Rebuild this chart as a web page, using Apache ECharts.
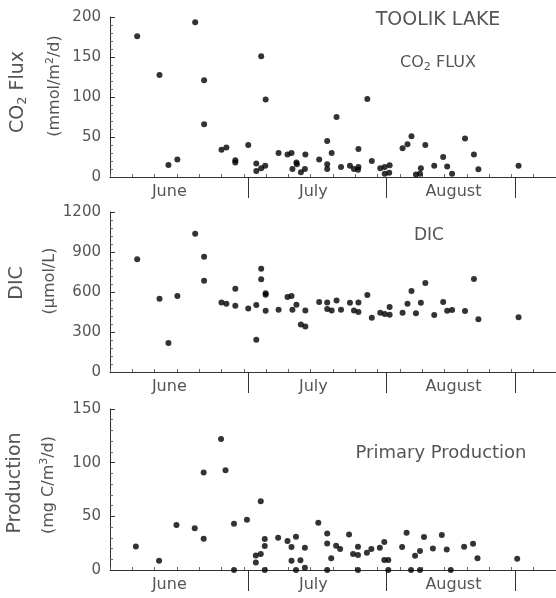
<!DOCTYPE html>
<html>
<head>
<meta charset="utf-8">
<script src="https://cdn.jsdelivr.net/npm/echarts@6/dist/echarts.min.js"></script>
<style>html,body{margin:0;padding:0;background:#fff}#c{width:556px;height:598px}</style>
</head>
<body>
<div id="c"></div>
<script>
// ---- Data (day of year) ----
const co2Days = [156.1,161.1,163.1,165.1,169.1,171.1,171.1,175.0,176.1,178.1,178.1,181.0,182.8,182.8,183.9,184.8,183.9,184.9,187.8,189.8,190.7,190.9,191.8,191.9,192.8,193.7,193.8,196.9,198.7,198.7,198.7,199.7,200.8,201.8,203.8,204.7,205.6,205.7,205.7,207.7,208.7,210.6,211.6,212.7,211.6,212.6,215.6,216.7,217.6,218.6,219.5,219.7,220.7,222.7,224.7,225.6,226.7,229.6,231.6,232.6,241.6];
const co2Flux = [176,127.5,15,22,193.5,121,66,34,37,21,18,40,17,7.5,11,14,151,97,30,28,30,10,18,16,6,10,28,22,45,16,10,30,75,12.5,14,10,9,12.5,35,97.5,20,11,12.5,14.6,4,5.4,36,41,51,3,4,11,40,14,25,13,4,48,28,9.6,14];

const dicDays = [156.1,161.1,163.1,165.1,169.1,171.1,171.1,175.0,176.1,178.1,178.1,181.0,182.8,182.8,183.9,183.9,184.9,184.9,184.9,187.8,189.8,190.7,190.9,191.8,192.8,193.8,193.8,196.9,198.7,198.7,199.7,200.8,201.8,203.8,204.7,205.7,205.7,207.7,208.7,210.6,211.6,212.7,212.7,215.6,216.7,217.6,218.6,219.7,220.7,222.7,224.7,225.6,226.7,229.6,231.6,232.6,241.6];
const dicValues = [845,550,217,570,1037,865,685,522,512,625,497,477,502,242,775,695,590,580,460,467,562,570,467,505,357,342,462,525,522,472,462,537,467,520,462,522,450,577,407,445,435,487,430,445,512,607,440,520,667,427,525,460,465,457,697,395,410];

const prodDays = [155.8,161.0,164.9,169.0,171.0,171.0,174.9,175.9,177.8,177.8,180.7,182.7,182.7,183.8,183.8,184.7,184.7,184.7,187.7,189.8,190.7,190.7,191.7,191.7,192.7,193.7,193.7,196.7,198.7,198.7,198.7,199.6,200.7,201.6,203.6,204.5,205.6,205.6,205.6,207.6,208.6,210.5,211.5,211.5,212.4,212.4,215.5,216.5,217.5,218.4,219.5,219.5,220.4,222.4,224.4,225.5,226.4,229.4,231.4,232.4,241.3];
const prodValues = [22,8.7,42,39,90.8,29,122,93,43,0,46.8,7,13.6,14.9,64,22.3,28.8,0,30,27,21.4,8.7,31,0,9,20.8,2,44,34,24.8,0,11,22.6,19.5,33,15,14,21.7,0,16,19.5,20.8,26,9.3,9.3,0,21.4,34.7,0,13.3,17.7,0,30.7,20,32.5,19,0,21.7,24.5,11,10.5];

// ---- Axis labels ----
const monthNames = ['June','July','August'];
const monthLabelDays = [163.3,195.6,227];
const monthBoundaryDays = [181,212,240.8];
const co2Ticks = [0,200,50];
const dicTicks = [0,1200,300];
const prodTicks = [0,150,50];

const FONT = 'DejaVu Sans';
const TXT = '#555';
const AX = '#333';

function zip(a,b){ return a.map((d,i)=>[d,b[i]]); }

const grids = [
  {left:110, top:17, width:450, height:160},
  {left:110, top:212, width:450, height:160},
  {left:110, top:409, width:450, height:161}
];
const xAxes = [];
const yAxes = [];
[co2Ticks, dicTicks, prodTicks].forEach((t,i)=>{
  xAxes.push({gridIndex:i, type:'value', min:150, max:250, interval:5, position:'bottom',
    axisLine:{show:true, lineStyle:{color:AX, width:1}},
    axisTick:{show:true, inside:true, length:3, lineStyle:{color:'#666'}},
    axisLabel:{show:false}, splitLine:{show:false}});
  xAxes.push({gridIndex:i, type:'value', min:150, max:250, position:'bottom',
    axisLine:{show:false},
    axisTick:{show:true, customValues:monthBoundaryDays, length:21, inside:false, lineStyle:{color:AX}},
    axisLabel:{show:true, customValues:monthLabelDays, fontSize:16, color:TXT, margin:7, fontFamily:FONT,
      formatter:(v)=>{ const k = monthLabelDays.findIndex(d=>Math.abs(d-v)<0.01); return k>=0?monthNames[k]:''; }},
    splitLine:{show:false}});
  yAxes.push({gridIndex:i, type:'value', min:t[0], max:t[1], interval:t[2],
    axisLine:{show:true, lineStyle:{color:AX, width:1}},
    axisTick:{show:true, inside:true, length:5, lineStyle:{color:AX}},
    minorTick:{show:true, splitNumber:5, length:3, lineStyle:{color:'#666'}},
    axisLabel:{fontSize:15, color:TXT, margin:9, fontFamily:FONT, formatter:(v)=>String(v)},
    splitLine:{show:false}});
});

function sc(i, days, vals){
  return {type:'scatter', xAxisIndex:2*i, yAxisIndex:i, data:zip(days,vals),
    symbol:'circle', symbolSize:6, itemStyle:{color:'#000'}, silent:true};
}

function vtext(x, y, text, size, rich){
  return {type:'text', x:x, y:y, rotation:Math.PI/2,
    style:{text:text, fontFamily:FONT, fontSize:size, fill:TXT, align:'center', verticalAlign:'middle', rich:rich}};
}
function htext(x, y, text, size, rich){
  return {type:'text', x:x, y:y,
    style:{text:text, fontFamily:FONT, fontSize:size, fill:TXT, align:'center', verticalAlign:'middle', rich:rich}};
}

const richL = {
  a:{fontSize:19, fontFamily:FONT, fill:TXT, color:TXT},
  s:{fontSize:13, fontFamily:FONT, fill:TXT, color:TXT, padding:[10,0,0,0]}
};
const richU = {
  a:{fontSize:16, fontFamily:FONT, fill:TXT, color:TXT},
  p:{fontSize:11, fontFamily:FONT, fill:TXT, color:TXT, padding:[0,0,9,0]}
};
const richT = {
  a:{fontSize:16, fontFamily:FONT, fill:TXT, color:TXT},
  s:{fontSize:11, fontFamily:FONT, fill:TXT, color:TXT, padding:[9,0,0,0]}
};

const chart = echarts.init(document.getElementById('c'), null, {renderer:'canvas'});
chart.setOption({
  animation:false,
  backgroundColor:'#fff',
  textStyle:{fontFamily:FONT},
  grid:grids,
  xAxis:xAxes,
  yAxis:yAxes,
  series:[sc(0,co2Days,co2Flux), sc(1,dicDays,dicValues), sc(2,prodDays,prodValues)],
  graphic:[
    vtext(18, 92, '{a|CO}{s|2}{a| Flux}', 19, richL),
    vtext(55, 86, '{a|(mmol/m}{p|2}{a|/d)}', 16, richU),
    vtext(17, 283, 'DIC', 19),
    vtext(50, 281, '(μmol/L)', 16),
    vtext(15, 483, 'Production', 19),
    vtext(49, 485, '{a|(mg C/m}{p|3}{a|/d)}', 16, richU),
    htext(438, 20, 'TOOLIK LAKE', 19),
    htext(438, 63, '{a|CO}{s|2}{a| FLUX}', 16, richT),
    htext(429, 236, 'DIC', 17),
    htext(441, 453, 'Primary Production', 18)
  ]
});
</script>
</body>
</html>
